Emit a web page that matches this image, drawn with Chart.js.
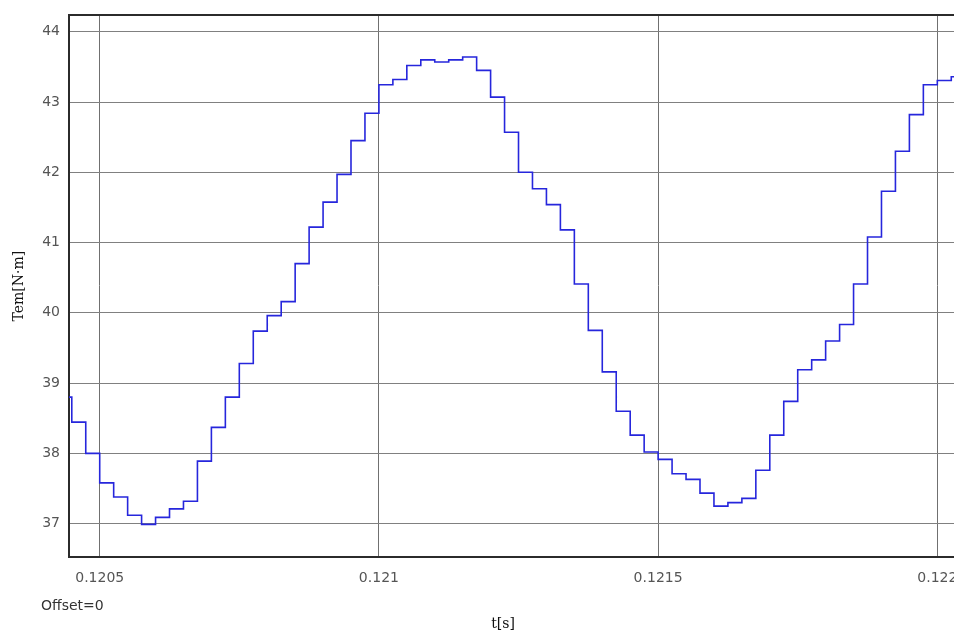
<!DOCTYPE html>
<html>
<head>
<meta charset="utf-8">
<script src="https://cdn.jsdelivr.net/npm/chart.js@4/dist/chart.umd.min.js"></script>
<style>
  html, body { margin: 0; padding: 0; background: #fff; overflow: hidden; }
  #wrap { position: absolute; left: 0; top: 0; width: 1006px; height: 630px; }
</style>
</head>
<body>
<div id="wrap"><canvas id="tem" width="1006" height="630"></canvas></div>
<script>
// sample instants (s) of the held torque signal
const sampleTimes = [
    0.120425, 0.12045, 0.120475, 0.1205, 0.120525, 0.12055, 0.120575, 0.1206,
    0.120625, 0.12065, 0.120675, 0.1207, 0.120725, 0.12075, 0.120775, 0.1208,
    0.120825, 0.12085, 0.120875, 0.1209, 0.120925, 0.12095, 0.120975, 0.121,
    0.121025, 0.12105, 0.121075, 0.1211, 0.121125, 0.12115, 0.121175, 0.1212,
    0.121225, 0.12125, 0.121275, 0.1213, 0.121325, 0.12135, 0.121375, 0.1214,
    0.121425, 0.12145, 0.121475, 0.1215, 0.121525, 0.12155, 0.121575, 0.1216,
    0.121625, 0.12165, 0.121675, 0.1217, 0.121725, 0.12175, 0.121775, 0.1218,
    0.121825, 0.12185, 0.121875, 0.1219, 0.121925, 0.12195, 0.121975, 0.122,
    0.122025, 0.12205
];

// electromagnetic torque Tem [N·m]
const temValues = [
    38.80, 38.445, 38.00, 37.58, 37.38, 37.12, 36.99, 37.09,
    37.21, 37.32, 37.89, 38.37, 38.80, 39.28, 39.74, 39.96,
    40.16, 40.70, 41.22, 41.575, 41.97, 42.45, 42.84, 43.245,
    43.32, 43.52, 43.60, 43.57, 43.60, 43.64, 43.45, 43.07,
    42.57, 42.00, 41.765, 41.54, 41.18, 40.41, 39.75, 39.16,
    38.60, 38.26, 38.02, 37.915, 37.71, 37.63, 37.435, 37.25,
    37.30, 37.36, 37.76, 38.26, 38.74, 39.19, 39.33, 39.60,
    39.835, 40.41, 41.08, 41.73, 42.30, 42.82, 43.245, 43.305,
    43.36, 43.36
];

const xTicks = [0.1205, 0.121, 0.1215, 0.122];
const xTickLabels = ['0.1205', '0.121', '0.1215', '0.122'];
const yTicks = [37, 38, 39, 40, 41, 42, 43, 44];

const xRange = [0.120445, 0.122123];
const yRange = [36.52, 44.238];

const xLabel = 't[s]';
const yLabel = 'Tem[N\u00b7m]';
const offsetText = 'Offset=0';

const points = sampleTimes.map((t, i) => ({ x: t, y: temValues[i] }));

const tickFont = { family: '"DejaVu Sans"', size: 14 };
const serifFont = { family: '"DejaVu Serif"', size: 14, weight: 'normal' };

// scope footer text between tick labels and x label
const offsetLabel = {
    id: 'offsetLabel',
    afterDraw(chart) {
        const ctx = chart.ctx;
        const xs = chart.scales.x;
        ctx.save();
        ctx.font = '14px "DejaVu Sans"';
        ctx.fillStyle = '#333';
        ctx.textBaseline = 'middle';
        ctx.textAlign = 'left';
        ctx.fillText(offsetText, 41, xs.bottom + 6);
        ctx.restore();
    }
};

new Chart(document.getElementById('tem').getContext('2d'), {
    type: 'line',
    data: {
        datasets: [{
            data: points,
            xAxisID: 'x',
            yAxisID: 'y',
            stepped: true,
            borderColor: '#2626dc',
            borderWidth: 1.6,
            pointRadius: 0,
            fill: false
        }]
    },
    options: {
        responsive: false,
        animation: false,
        layout: { padding: { top: 15, left: 0, right: 0, bottom: 0 } },
        plugins: {
            legend: { display: false },
            tooltip: { enabled: false },
            title: {
                display: true,
                text: xLabel,
                position: 'bottom',
                align: 'center',
                color: '#111',
                font: serifFont,
                padding: { top: 16, bottom: -3 }
            }
        },
        scales: {
            x: {
                type: 'linear',
                position: 'bottom',
                min: xRange[0],
                max: xRange[1],
                afterBuildTicks: scale => { scale.ticks = xTicks.map(v => ({ value: v })); },
                ticks: {
                    color: '#555',
                    font: tickFont,
                    padding: 13,
                    maxRotation: 0,
                    callback: (value, index) => xTickLabels[index]
                },
                grid: { color: '#707070', lineWidth: 1, drawTicks: false },
                border: { display: true, color: '#2b2b2b', width: 2 }
            },
            xTop: {
                type: 'linear',
                position: 'top',
                display: true,
                ticks: { display: false },
                grid: { display: false, drawTicks: false },
                border: { display: true, color: '#2b2b2b', width: 2 }
            },
            y: {
                type: 'linear',
                position: 'left',
                min: yRange[0],
                max: yRange[1],
                afterBuildTicks: scale => { scale.ticks = yTicks.map(v => ({ value: v })); },
                afterFit: scale => {
                    scale.width = 69;
                    scale.paddingTop = 0;
                    scale.paddingBottom = 0;
                },
                ticks: {
                    color: '#555',
                    font: tickFont,
                    padding: 9,
                    callback: value => String(value)
                },
                grid: { color: '#808080', lineWidth: 1, drawTicks: false },
                border: { display: true, color: '#2b2b2b', width: 2 },
                title: {
                    display: true,
                    text: yLabel,
                    color: '#111',
                    font: serifFont,
                    padding: { top: 11, bottom: 0 }
                }
            }
        }
    },
    plugins: [offsetLabel]
});
</script>
</body>
</html>
